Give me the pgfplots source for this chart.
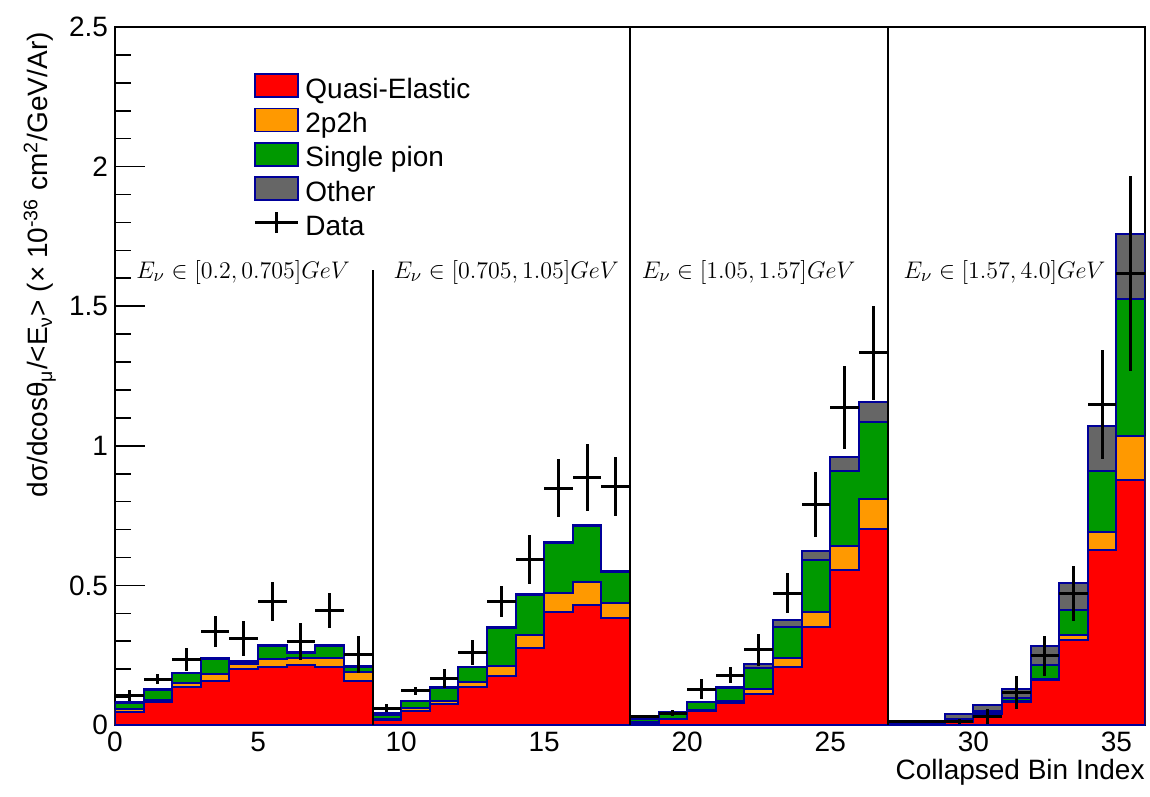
\documentclass[border=0pt]{standalone}
\usepackage{fontspec}
\setsansfont{Liberation Sans}
\usepackage{pgfplots}
\usepackage{pgfplotstable}
\pgfplotsset{compat=1.18}

\definecolor{qeRed}{RGB}{255,0,0}
\definecolor{mecOrange}{RGB}{255,153,0}
\definecolor{pionGreen}{RGB}{0,153,0}
\definecolor{otherGray}{RGB}{102,102,102}
\definecolor{histEdge}{RGB}{0,0,153}

% Stacked MC prediction, cumulative tops of each layer per collapsed bin
% (the last row repeats bin 35 to close the step at x = 36)
\pgfplotstableread{
x  qe    mec   pion  total
0  0.048 0.056 0.078 0.082
1  0.083 0.089 0.127 0.130
2  0.135 0.149 0.185 0.188
3  0.159 0.181 0.237 0.240
4  0.200 0.218 0.226 0.229
5  0.207 0.236 0.284 0.287
6  0.215 0.239 0.259 0.262
7  0.209 0.241 0.283 0.286
8  0.159 0.191 0.207 0.210
9  0.018 0.022 0.036 0.042
10 0.050 0.062 0.085 0.087
11 0.074 0.086 0.133 0.135
12 0.135 0.155 0.207 0.209
13 0.177 0.212 0.346 0.350
14 0.275 0.322 0.467 0.470
15 0.406 0.472 0.652 0.655
16 0.430 0.511 0.714 0.717
17 0.382 0.436 0.547 0.550
18 0.008 0.010 0.020 0.023
19 0.020 0.023 0.041 0.045
20 0.050 0.053 0.081 0.084
21 0.080 0.085 0.132 0.135
22 0.110 0.128 0.203 0.218
23 0.207 0.239 0.350 0.376
24 0.350 0.404 0.591 0.624
25 0.555 0.642 0.911 0.959
26 0.701 0.808 1.086 1.156
27 0.004 0.005 0.008 0.013
28 0.004 0.005 0.008 0.013
29 0.010 0.012 0.020 0.040
30 0.040 0.043 0.051 0.073
31 0.084 0.087 0.097 0.129
32 0.163 0.165 0.216 0.283
33 0.305 0.321 0.411 0.508
34 0.626 0.692 0.911 1.071
35 0.876 1.035 1.526 1.760
36 0.876 1.035 1.526 1.760
}\mcstack

% Measured cross section with total uncertainty
\pgfplotstableread{
xc   d     e
0.5  0.105 0.020
1.5  0.164 0.018
2.5  0.235 0.042
3.5  0.334 0.055
4.5  0.310 0.064
5.5  0.442 0.070
6.5  0.298 0.066
7.5  0.410 0.063
8.5  0.253 0.067
9.5  0.060 0.015
10.5 0.122 0.013
11.5 0.167 0.034
12.5 0.260 0.045
13.5 0.442 0.055
14.5 0.593 0.087
15.5 0.848 0.104
16.5 0.887 0.119
17.5 0.854 0.107
18.5 0.030 0.006
19.5 0.042 0.010
20.5 0.128 0.036
21.5 0.179 0.030
22.5 0.269 0.057
23.5 0.472 0.072
24.5 0.790 0.115
25.5 1.138 0.148
26.5 1.333 0.168
27.5 0.013 0.004
28.5 0.012 0.004
29.5 0.012 0.010
30.5 0.030 0.028
31.5 0.117 0.058
32.5 0.248 0.071
33.5 0.471 0.100
34.5 1.148 0.196
35.5 1.618 0.350
}\measured

\newcommand{\labfont}{\sffamily\fontsize{14}{16}\selectfont}
\tikzset{
  histbox/.style={line width=0.8pt, draw=histEdge, fill=#1},
}

\begin{document}
\begin{tikzpicture}
\begin{axis}[
  scale only axis,
  width=515pt, height=349pt,
  xmin=0, xmax=36, ymin=0, ymax=2.5,
  axis line style={line width=0.9pt},
  xtick={0,5,...,35},
  ytick={0,0.5,...,2.5},
  minor y tick num=4,
  tick align=inside,
  xtick pos=bottom, ytick pos=left,
  xtick style={draw=none},
  ytick style={line width=0.8pt, black},
  major tick length=15pt, minor tick length=8pt,
  tick label style={font=\labfont},
  /pgf/number format/assume math mode=true,
  xlabel={Collapsed Bin Index},
  xlabel style={font=\labfont, at={(axis description cs:1,0)}, anchor=north east, yshift=-17pt, inner sep=0pt},
  ylabel={dσ/dcosθ\textsubscript{μ}/<E\textsubscript{ν}> (× 10\textsuperscript{-36} cm\textsuperscript{2}/GeV/Ar)},
  ylabel style={font=\labfont, at={(axis description cs:-0.073,0.993)}, anchor=east, inner sep=0pt},
  legend style={at={(axis description cs:0.134,0.934)}, anchor=north west,
    draw=none, fill=none, font=\labfont, inner sep=0pt, row sep=1.75pt,
    nodes={inner sep=0pt, text height=10pt, text depth=3pt},
    /tikz/column 1/.style={column sep=3pt}},
  legend cell align=left,
]
% legend entries, listed in reading order
\addlegendimage{legend image code/.code={\draw[histbox=qeRed] (0pt,-3pt) rectangle (21.5pt,8.5pt);}}
\addlegendentry{Quasi-Elastic}
\addlegendimage{legend image code/.code={\draw[histbox=mecOrange] (0pt,-3pt) rectangle (21.5pt,8.5pt);}}
\addlegendentry{2p2h}
\addlegendimage{legend image code/.code={\draw[histbox=pionGreen] (0pt,-3pt) rectangle (21.5pt,8.5pt);}}
\addlegendentry{Single pion}
\addlegendimage{legend image code/.code={\draw[histbox=otherGray] (0pt,-3pt) rectangle (21.5pt,8.5pt);}}
\addlegendentry{Other}
\addlegendimage{legend image code/.code={\draw[black, line width=1.5pt] (0pt,2.75pt) -- (21.5pt,2.75pt); \draw[black, line width=1.5pt] (10.75pt,-2.5pt) -- (10.75pt,8pt);}}
\addlegendentry{Data}

% stacked histograms, drawn from the total downwards
\addplot[const plot, fill=otherGray, draw=histEdge, line width=1pt, forget plot] table[x=x, y=total] {\mcstack} \closedcycle;
\addplot[const plot, fill=pionGreen, draw=histEdge, line width=1pt, forget plot] table[x=x, y=pion] {\mcstack} \closedcycle;
\addplot[const plot, fill=mecOrange, draw=histEdge, line width=1pt, forget plot] table[x=x, y=mec] {\mcstack} \closedcycle;
\addplot[const plot, fill=qeRed, draw=histEdge, line width=1pt, forget plot] table[x=x, y=qe] {\mcstack} \closedcycle;

% energy-slice separators
\draw[black, line width=1pt] (axis cs:9,0) -- (axis cs:9,1.63);
\draw[black, line width=1pt] (axis cs:18,0) -- (axis cs:18,2.5);
\draw[black, line width=1pt] (axis cs:27,0) -- (axis cs:27,2.5);

% data
\addplot[draw=none, mark=none, forget plot,
  error bars/.cd, x dir=both, x fixed=0.5, y dir=both, y explicit,
  error mark=none, error bar style={black, line width=1.5pt}]
  table[x=xc, y=d, y error=e] {\measured};

% slice labels
\begin{scope}[every node/.style={anchor=west, inner sep=0pt, font=\fontsize{13.2}{15}\selectfont}]
\node at (axis cs:0.73,1.622) {$E_{\nu}\in[0.2,0.705]GeV$};
\node at (axis cs:9.72,1.622) {$E_{\nu}\in[0.705,1.05]GeV$};
\node at (axis cs:18.4,1.622) {$E_{\nu}\in[1.05,1.57]GeV$};
\node at (axis cs:27.55,1.622) {$E_{\nu}\in[1.57,4.0]GeV$};
\end{scope}

\node[anchor=base west, inner sep=0pt, font=\fontsize{12.5}{15}\selectfont]
  at (axis description cs:0.0165,1.0072) {MicroBooNE $6.5\times10^{20}$ POT, Preliminary};

\coordinate (bbSW) at (axis description cs:-0.11165,-0.10172);
\coordinate (bbNE) at (axis description cs:1.00485,1.03868);
\end{axis}
\path (bbSW) rectangle (bbNE);
\end{tikzpicture}
\end{document}
